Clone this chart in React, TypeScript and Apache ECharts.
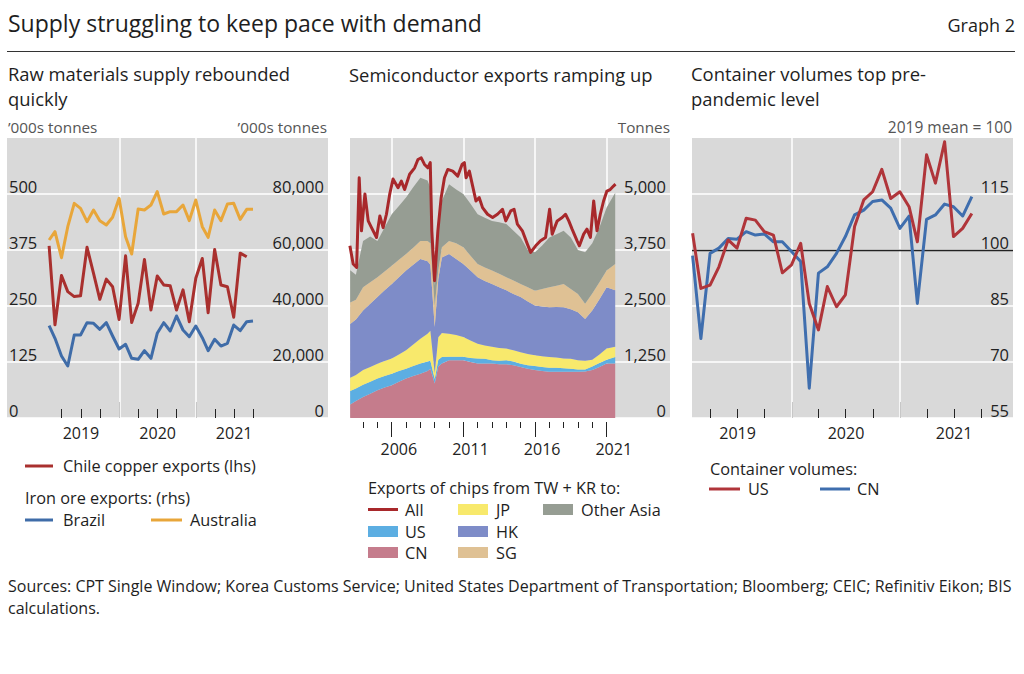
import React, { useEffect, useRef } from "react";
import * as echarts from "echarts";

const FONT = '"Open Sans", "Noto Sans", sans-serif';
const TXT = "#1e1e1e";
const UNIT_TXT = "#555555";
const PANEL_BG = "#d9d9d9";

const C_COPPER = "#a9302e";
const C_BRAZIL = "#3f6ca8";
const C_AUS = "#e8a63a";
const C_ALL = "#a8282b";
const C_US = "#5caee2";
const C_CN = "#c57c8c";
const C_JP = "#f8e96c";
const C_HK = "#7e8cc8";
const C_SG = "#dfc194";
const C_OA = "#969d93";
const C_US_CONT = "#b0353a";
const C_CN_CONT = "#3f6eae";

// ---------- Panel 1: raw materials (monthly) ----------
const ironMonths = [
  "2019-01", "2019-02", "2019-03", "2019-04", "2019-05", "2019-06", "2019-07", "2019-08", "2019-09", "2019-10", "2019-11", "2019-12",
  "2020-01", "2020-02", "2020-03", "2020-04", "2020-05", "2020-06", "2020-07", "2020-08", "2020-09", "2020-10", "2020-11", "2020-12",
  "2021-01", "2021-02", "2021-03", "2021-04", "2021-05", "2021-06", "2021-07", "2021-08", "2021-09",
];
const copperMonths = ironMonths.slice(0, 32);
const chileCopper = [384, 208, 318, 282, 271, 273, 381, 323, 265, 310, 293, 220, 362, 213, 256, 354, 241, 317, 297, 295, 241, 286, 215, 312, 356, 235, 376, 297, 293, 225, 368, 360];
const brazilIron = [32980, 28450, 22140, 18570, 29640, 29640, 34050, 33810, 31670, 34050, 29290, 24640, 26310, 21310, 20950, 24050, 21310, 30240, 34050, 31070, 36430, 31430, 29050, 32860, 28690, 24050, 28100, 25710, 26670, 33210, 31190, 34400, 34640];
const australiaIron = [63570, 66550, 57260, 68330, 76670, 74880, 70120, 74290, 70480, 68930, 71670, 78450, 64760, 58570, 74640, 74290, 76070, 80830, 72860, 73690, 73690, 76070, 70480, 77860, 68330, 64520, 74290, 70480, 76430, 76670, 70950, 74520, 74520];

// ---------- Panel 2: semiconductor exports (tonnes) ----------
const semiYears = [2003.1, 2003.5, 2004.0, 2004.5, 2005.0, 2005.5, 2006.0, 2006.5, 2007.0, 2007.5, 2008.0, 2008.5, 2008.7, 2009.0, 2009.25, 2009.5, 2010.0, 2010.5, 2011.0, 2011.5, 2012.0, 2012.5, 2013.0, 2013.5, 2014.0, 2014.5, 2015.0, 2015.5, 2016.0, 2016.5, 2017.0, 2017.5, 2018.0, 2018.5, 2019.0, 2019.5, 2020.0, 2020.5, 2021.0, 2021.6];
const semiCN = [300, 380, 470, 540, 620, 680, 730, 810, 880, 940, 990, 1050, 1100, 770, 1150, 1215, 1290, 1290, 1290, 1250, 1215, 1215, 1215, 1200, 1200, 1180, 1140, 1100, 1070, 1050, 1030, 1030, 1030, 1030, 1030, 1040, 1070, 1140, 1215, 1215];
const semiUS = [300, 280, 270, 270, 260, 260, 260, 240, 220, 220, 225, 210, 180, 100, 150, 145, 75, 75, 75, 90, 115, 105, 75, 80, 90, 80, 70, 80, 90, 90, 90, 90, 80, 70, 50, 40, 80, 90, 85, 145];
const semiJP = [300, 300, 330, 330, 330, 330, 340, 370, 410, 480, 555, 620, 670, 130, 500, 540, 515, 485, 445, 390, 330, 300, 300, 280, 260, 250, 260, 250, 240, 240, 240, 230, 220, 220, 210, 200, 150, 190, 250, 230];
const semiHK = [1200, 1240, 1330, 1410, 1490, 1580, 1660, 1720, 1780, 1780, 1780, 1620, 1470, 1030, 1300, 1680, 1780, 1700, 1630, 1560, 1480, 1440, 1400, 1360, 1300, 1260, 1230, 1170, 1110, 1110, 1110, 1130, 1140, 1110, 1070, 930, 1100, 1230, 1370, 1260];
const semiSG = [480, 440, 520, 480, 440, 420, 410, 390, 370, 380, 400, 450, 480, 470, 200, 230, 290, 350, 370, 330, 300, 300, 300, 300, 290, 300, 290, 320, 330, 390, 450, 470, 520, 450, 410, 340, 380, 380, 370, 590];
const semiOtherAsia = [720, 560, 1030, 1020, 810, 980, 1150, 1200, 1260, 1350, 1410, 1350, 1240, 450, 900, 1040, 1265, 1200, 1190, 1160, 1110, 1110, 1110, 1150, 1190, 1110, 1040, 830, 860, 970, 1110, 1150, 1190, 1150, 980, 1150, 1120, 1220, 1410, 1590];
const allYears = [2003.08, 2003.31, 2003.55, 2003.73, 2003.89, 2004.13, 2004.36, 2004.59, 2004.94, 2005.17, 2005.4, 2005.63, 2005.86, 2006.09, 2006.44, 2006.67, 2006.9, 2007.25, 2007.6, 2007.83, 2008.06, 2008.29, 2008.52, 2008.69, 2008.8, 2008.99, 2009.22, 2009.45, 2009.68, 2009.91, 2010.26, 2010.61, 2010.91, 2011.07, 2011.19, 2011.42, 2011.65, 2011.88, 2012.11, 2012.34, 2012.69, 2013.04, 2013.38, 2013.73, 2013.96, 2014.31, 2014.54, 2014.77, 2015.12, 2015.47, 2015.7, 2016.05, 2016.39, 2016.74, 2017.02, 2017.2, 2017.55, 2017.9, 2018.13, 2018.36, 2018.59, 2018.94, 2019.1, 2019.4, 2019.63, 2019.87, 2020.1, 2020.33, 2020.56, 2020.79, 2021.02, 2021.25, 2021.48, 2021.62];
const allValues = [3844, 3437, 3363, 5363, 4178, 5000, 4400, 4250, 4030, 4511, 4250, 4548, 5000, 5333, 5140, 5288, 5100, 5440, 5585, 5770, 5807, 5660, 5585, 5700, 4178, 3066, 4178, 4918, 5363, 5548, 5510, 5400, 5660, 5700, 5363, 5510, 5177, 4844, 4918, 4696, 4548, 4474, 4548, 4659, 4400, 4622, 4659, 4326, 4178, 3881, 3696, 3844, 3955, 4030, 4659, 4104, 4400, 4474, 4548, 4400, 4215, 3955, 3844, 4104, 4215, 4030, 4844, 4178, 4548, 4844, 5066, 5100, 5177, 5220];

// ---------- Panel 3: container volumes (2019 mean = 100) ----------
const containerMonths = ironMonths.slice(0, 32);
const containerUS = [104.5, 89.7, 90.6, 95.5, 102.7, 100.5, 108.5, 108.0, 104.9, 104.0, 93.9, 96.0, 101.8, 85.7, 78.6, 90.2, 84.8, 88.0, 106.3, 113.4, 115.6, 121.6, 113.8, 115.6, 111.6, 102.2, 125.5, 117.9, 129.0, 103.6, 105.8, 109.8];
const containerCN = [98.5, 76.3, 99.1, 100.5, 103.1, 102.9, 104.9, 104.0, 104.3, 102.2, 102.2, 99.6, 96.9, 63.0, 93.8, 95.5, 99.1, 103.6, 109.4, 110.7, 113.0, 113.4, 111.2, 105.8, 109.1, 85.7, 108.2, 109.4, 112.3, 111.6, 109.1, 114.3];

// ---------- helpers ----------
const monthEnd = (s: string) => {
  const [y, m] = s.split("-").map(Number);
  return Date.UTC(y, m, 0);
};
const yearToTs = (y: number) => {
  const f = Math.floor(y);
  return Date.UTC(f, 0, 1) + (y - f) * 365.25 * 864e5;
};
const d = (y: number, m: number, day: number) => Date.UTC(y, m - 1, day);
const thousands = (v: number) => String(v).replace(/\B(?=(\d{3})+(?!\d))/g, ",");
const yearFmt = (v: number) => String(new Date(v).getUTCFullYear());

// axis extents / tick positions (timestamps)
const P1_MIN = d(2018, 7, 14), P1_MAX = d(2022, 9, 23);
const P2_MIN = d(2003, 2, 2), P2_MAX = d(2025, 6, 5);
const P3_MIN = d(2019, 1, 29), P3_MAX = d(2022, 1, 17);
const qMinor = [d(2019, 4, 1), d(2019, 7, 1), d(2019, 10, 1), d(2020, 4, 1), d(2020, 7, 1), d(2020, 10, 1), d(2021, 4, 1), d(2021, 7, 1), d(2021, 10, 1)];
const qMajor = [d(2020, 1, 1), d(2021, 1, 1)];
const qLabels = [d(2019, 7, 2), d(2020, 7, 2), d(2021, 7, 2)];
const yMajor = [2006, 2011, 2016, 2021].map((y) => d(y, 1, 1));
const yMinor = [2004, 2005, 2007, 2008, 2009, 2010, 2012, 2013, 2014, 2015, 2017, 2018, 2019, 2020].map((y) => d(y, 1, 1));
const yLabels = [2006, 2011, 2016, 2021].map((y) => d(y, 7, 2));

const tickLine = { color: "#222", width: 1 };
const labelBase = { color: "#222", fontSize: 16, fontFamily: FONT };

const xMinorAxis = (grid: number, min: number, max: number, minor: number[], inside: boolean, offset: number, len: number) => ({
  type: "value", gridIndex: grid, position: "bottom", min, max, offset, scale: true,
  axisLine: { show: false, onZero: false }, splitLine: { show: false },
  axisLabel: { show: false },
  axisTick: { show: true, inside, length: len, customValues: minor, lineStyle: tickLine },
});
const xMajorAxis = (grid: number, min: number, max: number, major: number[], labels: number[], inside: boolean, offset: number, len: number, margin: number) => ({
  type: "value", gridIndex: grid, position: "bottom", min, max, offset, scale: true,
  axisLine: { show: false, onZero: false }, splitLine: { show: false },
  axisTick: { show: true, inside, length: len, customValues: major, lineStyle: tickLine },
  axisLabel: { show: true, customValues: labels, formatter: yearFmt, margin, hideOverlap: false, ...labelBase },
});

const yAx = (grid: number, pos: string, min: number, max: number, interval: number, split: boolean, fmt?: (v: number) => string) => ({
  type: "value", gridIndex: grid, position: pos, min, max, interval,
  axisLine: { show: false }, axisTick: { show: false },
  splitLine: { show: split, showMaxLine: false, lineStyle: { color: "#ffffff", width: 1.5 } },
  axisLabel: {
    inside: true, margin: pos === "left" ? 2 : 4, verticalAlign: "bottom", lineHeight: 16,
    showMaxLabel: false, formatter: fmt, ...labelBase, fontSize: 16.5,
  },
});

const vLines = (vals: number[], extra: any[] = []) => ({
  silent: true, symbol: ["none", "none"], z: 1, animation: false,
  label: { show: false }, emphasis: { disabled: true },
  lineStyle: { color: "#ffffff", width: 1.5, type: "solid" },
  data: [...vals.map((v) => ({ xAxis: v })), ...extra],
});

const lineSeries = (name: string, color: string, xi: number, yi: number, data: any[], z = 3, markLine?: any) => ({
  type: "line", name, xAxisIndex: xi, yAxisIndex: yi, data, showSymbol: false, symbol: "none", z,
  lineStyle: { color, width: 3, join: "round" }, itemStyle: { color }, markLine,
});

const areaSeries = (name: string, color: string, vals: number[]) => ({
  type: "line", name, stack: "chips", xAxisIndex: 2, yAxisIndex: 2, z: 2,
  data: semiYears.map((y, i) => [yearToTs(y), vals[i]]),
  showSymbol: false, symbol: "none",
  lineStyle: { width: 0, color }, itemStyle: { color },
  areaStyle: { color, opacity: 1 },
});

const txt = (text: string, x: number, y: number, size: number, fill = TXT, align = "left", lineHeight?: number) => ({
  type: "text", x, y, silent: true,
  style: { text, fill, fontSize: size, fontFamily: FONT, align, verticalAlign: "middle", lineHeight },
});
const hline = (x1: number, x2: number, y: number, stroke: string, w = 3) => ({
  type: "line", silent: true, shape: { x1, y1: y, x2, y2: y }, style: { stroke, lineWidth: w },
});
const box = (x: number, y: number, color: string) => ({
  type: "rect", silent: true, shape: { x, y: y - 5.5, width: 30, height: 11 }, style: { fill: color },
});

const LEG = 16.3;
const graphicElements = [
  txt("Supply struggling to keep pace with demand", 8, 23, 23),
  txt("Graph 2", 1015, 25, 18, TXT, "right"),
  hline(7, 1015, 51.5, "#333", 1.2),
  txt("Raw materials supply rebounded\nquickly", 8, 85.5, 18.4, TXT, "left", 25),
  txt("Semiconductor exports ramping up", 349, 74, 18.4),
  txt("Container volumes top pre-\npandemic level", 691, 85.5, 18.4, TXT, "left", 25),
  txt("\u2019000s tonnes", 8, 127, 15.3, UNIT_TXT),
  txt("\u2019000s tonnes", 327, 127, 15.3, UNIT_TXT, "right"),
  txt("Tonnes", 670, 127, 15.3, UNIT_TXT, "right"),
  txt("2019 mean = 100", 1012, 127, 15.5, UNIT_TXT, "right"),
  // legend panel 1
  hline(25, 53, 466, C_COPPER),
  txt("Chile copper exports (lhs)", 63, 466, LEG),
  txt("Iron ore exports: (rhs)", 25, 498, LEG),
  hline(25, 53, 520, C_BRAZIL),
  txt("Brazil", 63, 520, LEG),
  hline(151, 182, 520, C_AUS),
  txt("Australia", 190, 520, LEG),
  // legend panel 2
  txt("Exports of chips from TW + KR to:", 368, 488, LEG),
  hline(368, 398, 509.5, C_ALL),
  txt("All", 405, 509.5, LEG),
  box(368, 531.5, C_US),
  txt("US", 405, 531.5, LEG),
  box(368, 552.5, C_CN),
  txt("CN", 405, 552.5, LEG),
  box(458, 509.5, C_JP),
  txt("JP", 496, 509.5, LEG),
  box(458, 531.5, C_HK),
  txt("HK", 496, 531.5, LEG),
  box(458, 552.5, C_SG),
  txt("SG", 496, 552.5, LEG),
  box(543, 509.5, C_OA),
  txt("Other Asia", 581, 509.5, LEG),
  // legend panel 3
  txt("Container volumes:", 710, 469, LEG),
  hline(709, 740, 489, C_US_CONT),
  txt("US", 748, 489, LEG),
  hline(820, 850, 489, C_CN_CONT),
  txt("CN", 857, 489, LEG),
  // sources
  txt("Sources: CPT Single Window; Korea Customs Service; United States Department of Transportation; Bloomberg; CEIC; Refinitiv Eikon; BIS\ncalculations.", 8, 596.5, 16, TXT, "left", 22),
];

const option: any = {
  animation: false,
  backgroundColor: "#ffffff",
  textStyle: { fontFamily: FONT },
  grid: [
    { left: 7, top: 138, width: 321, height: 280, show: true, backgroundColor: PANEL_BG, borderWidth: 0, outerBoundsMode: "none" },
    { left: 350, top: 138, width: 320, height: 280, show: true, backgroundColor: PANEL_BG, borderWidth: 0, outerBoundsMode: "none" },
    { left: 692, top: 138, width: 321, height: 280, show: true, backgroundColor: PANEL_BG, borderWidth: 0, outerBoundsMode: "none" },
  ],
  xAxis: [
    // 0,1: panel 1
    xMinorAxis(0, P1_MIN, P1_MAX, qMinor, true, 0, 9),
    xMajorAxis(0, P1_MIN, P1_MAX, qMajor, qLabels, true, 0, 16, 7),
    // 2: panel 2 data axis (time, for stacking), 3,4: ticks/labels
    {
      type: "time", gridIndex: 1, position: "bottom", min: P2_MIN, max: P2_MAX,
      axisLine: { show: false, onZero: false }, axisTick: { show: false }, axisLabel: { show: false }, splitLine: { show: false },
    },
    xMinorAxis(1, P2_MIN, P2_MAX, yMinor, false, 4, 6),
    xMajorAxis(1, P2_MIN, P2_MAX, yMajor, yLabels, false, 4, 15, 19),
    // 5,6: panel 3
    xMinorAxis(2, P3_MIN, P3_MAX, qMinor, true, 0, 9),
    xMajorAxis(2, P3_MIN, P3_MAX, qMajor, qLabels, true, 0, 16, 7),
  ],
  yAxis: [
    yAx(0, "left", 0, 625, 125, true),
    yAx(0, "right", 0, 100000, 20000, false, thousands),
    yAx(1, "right", 0, 6250, 1250, true, thousands),
    yAx(2, "right", 55, 130, 15, true),
  ],
  series: [
    lineSeries("Brazil", C_BRAZIL, 0, 1, ironMonths.map((m, i) => [monthEnd(m), brazilIron[i]]), 3, vLines(qMajor)),
    lineSeries("Australia", C_AUS, 0, 1, ironMonths.map((m, i) => [monthEnd(m), australiaIron[i]])),
    lineSeries("Chile copper exports (lhs)", C_COPPER, 0, 0, copperMonths.map((m, i) => [monthEnd(m), chileCopper[i]]), 4),
    { ...areaSeries("CN", C_CN, semiCN), markLine: vLines(yMajor) },
    areaSeries("US", C_US, semiUS),
    areaSeries("JP", C_JP, semiJP),
    areaSeries("HK", C_HK, semiHK),
    areaSeries("SG", C_SG, semiSG),
    areaSeries("Other Asia", C_OA, semiOtherAsia),
    lineSeries("All", C_ALL, 2, 2, allYears.map((y, i) => [yearToTs(y), allValues[i]]), 4),
    lineSeries("CN ", C_CN_CONT, 5, 3, containerMonths.map((m, i) => [monthEnd(m), containerCN[i]]), 3,
      vLines(qMajor, [{ yAxis: 100, lineStyle: { color: "#222222", width: 1.3, type: "solid" } }])),
    lineSeries("US ", C_US_CONT, 5, 3, containerMonths.map((m, i) => [monthEnd(m), containerUS[i]]), 4),
  ],
  graphic: { elements: graphicElements },
};

export default function App() {
  const ref = useRef<HTMLDivElement>(null);
  useEffect(() => {
    if (!ref.current) return;
    const chart = echarts.init(ref.current, null, { renderer: "svg" });
    chart.setOption(option);
    return () => chart.dispose();
  }, []);
  return (
    <div
      ref={ref}
      style={{ position: "absolute", left: 0, top: 0, width: 1024, height: 674, background: "#ffffff" }}
    />
  );
}
